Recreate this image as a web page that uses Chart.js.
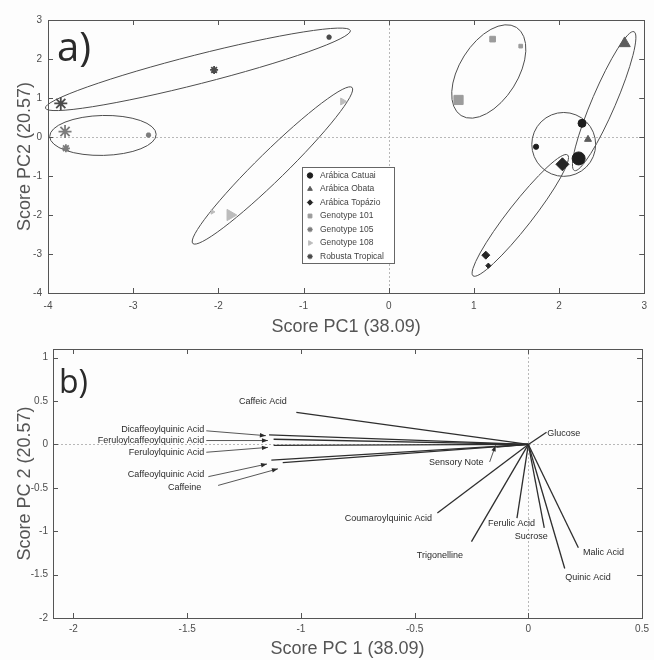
<!DOCTYPE html>
<html>
<head>
<meta charset="utf-8">
<script src="https://cdn.jsdelivr.net/npm/chart.js@4.4.1/dist/chart.umd.min.js"></script>
<style>
  html, body { margin: 0; padding: 0; background: #fdfdfd; }
  canvas { display: block; }
</style>
</head>
<body>
<canvas id="scoresChart" width="654" height="338"></canvas>
<canvas id="loadingsChart" width="654" height="322"></canvas>
<script>
// ---- a) PCA scores, three samples per coffee ----
const groupNames = ['Arábica Catuai', 'Arábica Obata', 'Arábica Topázio', 'Genotype 101', 'Genotype 105', 'Genotype 108', 'Robusta Tropical'];
const catuaiX = [2.23, 2.27, 1.73];
const catuaiY = [-0.55, 0.35, -0.25];
const obataX = [2.77, 2.34, 2.27];
const obataY = [2.40, -0.06, -0.63];
const topazioX = [2.04, 1.14, 1.17];
const topazioY = [-0.70, -3.03, -3.30];
const gen101X = [0.82, 1.22, 1.55];
const gen101Y = [0.95, 2.51, 2.33];
const gen105X = [-3.80, -3.79, -2.82];
const gen105Y = [0.14, -0.29, 0.05];
const gen108X = [-1.86, -0.54, -2.07];
const gen108Y = [-2.00, 0.91, -1.92];
const robustaX = [-3.85, -2.05, -0.70];
const robustaY = [0.86, 1.72, 2.56];

// group ellipses: ends of the long axis + short/long ratio
const ellipseX1 = [1.68, 2.18, 2.10, 0.85, -3.98, -2.30, -4.03];
const ellipseY1 = [-0.19, -0.86, -0.46, 0.55, 0.01, -2.73, 0.74];
const ellipseX2 = [2.43, 2.88, 0.99, 1.50, -2.73, -0.43, -0.45];
const ellipseY2 = [-0.19, 2.70, -3.56, 2.81, 0.07, 1.27, 2.73];
const ellipseRatio = [1.0, 0.156, 0.157, 0.56, 0.375, 0.128, 0.092];

// ---- b) loadings ----
const variables = ['Caffeic Acid', 'Dicaffeoylquinic Acid', 'Feruloylcaffeoylquinic Acid', 'Feruloylquinic Acid',
  'Caffeoylquinic Acid', 'Caffeine', 'Sensory Note', 'Glucose', 'Coumaroylquinic Acid', 'Trigonelline',
  'Ferulic Acid', 'Sucrose', 'Quinic Acid', 'Malic Acid'];
const loadPC1 = [-1.02, -1.14, -1.12, -1.12, -1.13, -1.08, -0.14, 0.08, -0.40, -0.25, -0.05, 0.07, 0.16, 0.22];
const loadPC2 = [0.37, 0.11, 0.06, -0.01, -0.18, -0.21, -0.03, 0.14, -0.79, -1.12, -0.85, -0.96, -1.43, -1.19];

const xsA = [catuaiX, obataX, topazioX, gen101X, gen105X, gen108X, robustaX];
const ysA = [catuaiY, obataY, topazioY, gen101Y, gen105Y, gen108Y, robustaY];

const groupStyles = [
  { color: '#1e1e1e', shape: 'circle', rot: 0 },
  { color: '#5c5c5c', shape: 'triangle', rot: 0 },
  { color: '#262626', shape: 'rectRot', rot: 0 },
  { color: '#9c9c9c', shape: 'rect', rot: 0 },
  { color: '#7c7c7c', shape: 'star', rot: 0 },
  { color: '#bcbcbc', shape: 'triangle', rot: 90 },
  { color: '#4a4a4a', shape: 'star', rot: 0 }
];
const markerRadius = [6.5, 4, 2.6]; // big / medium / small sample

const FONT = 'Liberation Sans';
const tickFont = { family: FONT, size: 10 };
const titleFont = { family: FONT, size: 18 };
const plainTick = v => String(Math.round(v * 100) / 100);

// zero lines, box and inward tick marks (matlab style)
const framePlugin = {
  id: 'frame',
  beforeDatasetsDraw(chart) {
    const { ctx, chartArea: a, scales: { x, y } } = chart;
    const x0 = Math.round(x.getPixelForValue(0)) + 0.5;
    const y0 = Math.round(y.getPixelForValue(0)) + 0.5;
    ctx.save();
    ctx.strokeStyle = '#b8b8b8';
    ctx.lineWidth = 1;
    ctx.setLineDash([2, 2]);
    ctx.beginPath();
    ctx.moveTo(x0, a.top); ctx.lineTo(x0, a.bottom);
    ctx.moveTo(a.left, y0); ctx.lineTo(a.right, y0);
    ctx.stroke();
    ctx.restore();
  },
  afterDraw(chart) {
    const { ctx, chartArea: a, scales: { x, y } } = chart;
    ctx.save();
    ctx.strokeStyle = '#555';
    ctx.lineWidth = 1;
    ctx.strokeRect(Math.round(a.left) + 0.5, Math.round(a.top) + 0.5, Math.round(a.right - a.left), Math.round(a.bottom - a.top));
    ctx.beginPath();
    x.ticks.forEach(t => {
      const px = Math.round(x.getPixelForValue(t.value)) + 0.5;
      ctx.moveTo(px, a.bottom); ctx.lineTo(px, a.bottom - 5);
      ctx.moveTo(px, a.top); ctx.lineTo(px, a.top + 5);
    });
    y.ticks.forEach(t => {
      const py = Math.round(y.getPixelForValue(t.value)) + 0.5;
      ctx.moveTo(a.left, py); ctx.lineTo(a.left + 5, py);
      ctx.moveTo(a.right, py); ctx.lineTo(a.right - 5, py);
    });
    ctx.stroke();
    ctx.restore();
  }
};

const panelTag = {
  id: 'panelTag',
  afterDraw(chart, args, opts) {
    const { ctx, chartArea: a } = chart;
    ctx.save();
    ctx.fillStyle = '#2a2a2a';
    ctx.font = opts.size + 'px "Open Sans"';
    ctx.textBaseline = 'alphabetic';
    ctx.fillText(opts.text, a.left + opts.dx, a.top + opts.dy);
    ctx.restore();
  }
};

const ellipsePlugin = {
  id: 'ellipses',
  beforeDatasetsDraw(chart) {
    const { ctx, scales: { x, y } } = chart;
    ctx.save();
    ctx.strokeStyle = '#4e4e4e';
    ctx.lineWidth = 1;
    groupNames.forEach((_, i) => {
      const x1 = x.getPixelForValue(ellipseX1[i]), y1 = y.getPixelForValue(ellipseY1[i]);
      const x2 = x.getPixelForValue(ellipseX2[i]), y2 = y.getPixelForValue(ellipseY2[i]);
      const r = Math.hypot(x2 - x1, y2 - y1) / 2;
      ctx.beginPath();
      ctx.ellipse((x1 + x2) / 2, (y1 + y2) / 2, r, r * ellipseRatio[i], Math.atan2(y2 - y1, x2 - x1), 0, Math.PI * 2);
      ctx.stroke();
    });
    ctx.restore();
  }
};

const legendBox = {
  id: 'legendBox',
  afterDraw(chart) {
    const { ctx, chartArea: a } = chart;
    const left = a.left + 254, top = a.top + 147, w = 92, h = 96;
    ctx.save();
    ctx.fillStyle = '#fff';
    ctx.fillRect(left, top, w, h);
    ctx.strokeStyle = '#666';
    ctx.lineWidth = 1;
    ctx.strokeRect(left + 0.5, top + 0.5, w, h);
    ctx.font = '8.5px "' + FONT + '"';
    ctx.textBaseline = 'middle';
    groupNames.forEach((name, i) => {
      const st = groupStyles[i];
      const yy = top + 8.5 + i * 13.5;
      ctx.fillStyle = st.color;
      ctx.strokeStyle = st.color;
      ctx.lineWidth = st.shape === 'star' ? 1.3 : 1;
      Chart.helpers.drawPoint(ctx, { pointStyle: st.shape, rotation: st.rot, radius: 2.7, borderWidth: 1 }, left + 8, yy);
      ctx.fillStyle = '#444';
      ctx.fillText(name, left + 18, yy);
    });
    ctx.restore();
  }
};

new Chart(document.getElementById('scoresChart'), {
  type: 'scatter',
  data: {
    datasets: groupNames.map((name, i) => ({
      label: name,
      data: xsA[i].map((v, j) => ({ x: v, y: ysA[i][j] })),
      pointStyle: groupStyles[i].shape,
      pointRotation: groupStyles[i].rot,
      pointRadius: markerRadius,
      backgroundColor: groupStyles[i].color,
      borderColor: groupStyles[i].color,
      borderWidth: groupStyles[i].shape === 'star' ? 1.8 : 1
    }))
  },
  options: {
    responsive: false,
    animation: false,
    events: [],
    layout: { padding: { top: 20, right: 8, left: 0, bottom: 0 } },
    plugins: {
      legend: { display: false },
      tooltip: { enabled: false },
      panelTag: { text: 'a)', size: 40, dx: 9, dy: 41 }
    },
    scales: {
      x: {
        type: 'linear', min: -4, max: 3,
        grid: { display: false, drawTicks: false },
        border: { display: false },
        ticks: { stepSize: 1, autoSkip: false, maxRotation: 0, padding: 7, font: tickFont, color: '#4d4d4d', callback: plainTick },
        title: { display: true, text: 'Score PC1 (38.09)', font: titleFont, color: '#555', padding: { top: 0, bottom: 0 } },
        afterFit(s) { s.height = 45; }
      },
      y: {
        type: 'linear', min: -4, max: 3,
        grid: { display: false, drawTicks: false },
        border: { display: false },
        ticks: { stepSize: 1, autoSkip: false, padding: 6, font: tickFont, color: '#4d4d4d', callback: plainTick },
        title: { display: true, text: 'Score PC2 (20.57)', font: titleFont, color: '#555', padding: { top: 14, bottom: 0 } },
        afterFit(s) { s.width = 48; }
      }
    }
  },
  plugins: [framePlugin, ellipsePlugin, legendBox, panelTag]
});

// where the loading names sit, with arrows for the crowded ones
const labelSpots = {
  'Caffeic Acid': { x: -1.167, y: 0.494, align: 'center' },
  'Dicaffeoylquinic Acid': { x: -1.425, y: 0.169, align: 'right', from: [-1.416, 0.157], to: [-1.154, 0.101] },
  'Feruloylcaffeoylquinic Acid': { x: -1.425, y: 0.045, align: 'right', from: [-1.416, 0.045], to: [-1.145, 0.045] },
  'Feruloylquinic Acid': { x: -1.425, y: -0.09, align: 'right', from: [-1.416, -0.09], to: [-1.145, -0.034] },
  'Caffeoylquinic Acid': { x: -1.425, y: -0.348, align: 'right', from: [-1.407, -0.371], to: [-1.149, -0.225] },
  'Caffeine': { x: -1.438, y: -0.494, align: 'right', from: [-1.364, -0.472], to: [-1.101, -0.281] },
  'Sensory Note': { x: -0.197, y: -0.213, align: 'right', from: [-0.170, -0.202], to: [-0.144, -0.011] },
  'Glucose': { x: 0.083, y: 0.124, align: 'left' },
  'Coumaroylquinic Acid': { x: -0.424, y: -0.854, align: 'right' },
  'Trigonelline': { x: -0.389, y: -1.281, align: 'center' },
  'Ferulic Acid': { x: -0.074, y: -0.91, align: 'center' },
  'Sucrose': { x: 0.013, y: -1.056, align: 'center' },
  'Malic Acid': { x: 0.240, y: -1.247, align: 'left' },
  'Quinic Acid': { x: 0.162, y: -1.539, align: 'left' }
};

const loadingLabels = {
  id: 'loadingLabels',
  afterDatasetsDraw(chart) {
    const { ctx, scales: { x, y } } = chart;
    ctx.save();
    ctx.font = '9px "' + FONT + '"';
    ctx.textBaseline = 'middle';
    ctx.fillStyle = '#2a2a2a';
    ctx.strokeStyle = '#444';
    ctx.lineWidth = 0.9;
    variables.forEach(name => {
      const s = labelSpots[name];
      ctx.textAlign = s.align;
      ctx.fillText(name, x.getPixelForValue(s.x), y.getPixelForValue(s.y));
      if (s.from) {
        const fx = x.getPixelForValue(s.from[0]), fy = y.getPixelForValue(s.from[1]);
        const tx = x.getPixelForValue(s.to[0]), ty = y.getPixelForValue(s.to[1]);
        const ang = Math.atan2(ty - fy, tx - fx);
        ctx.beginPath();
        ctx.moveTo(fx, fy); ctx.lineTo(tx, ty);
        ctx.stroke();
        ctx.beginPath();
        ctx.moveTo(tx, ty);
        ctx.lineTo(tx - 6 * Math.cos(ang) + 2.2 * Math.sin(ang), ty - 6 * Math.sin(ang) - 2.2 * Math.cos(ang));
        ctx.lineTo(tx - 6 * Math.cos(ang) - 2.2 * Math.sin(ang), ty - 6 * Math.sin(ang) + 2.2 * Math.cos(ang));
        ctx.closePath();
        ctx.fill();
      }
    });
    ctx.restore();
  }
};

new Chart(document.getElementById('loadingsChart'), {
  type: 'scatter',
  data: {
    datasets: variables.map((name, i) => ({
      label: name,
      data: [{ x: 0, y: 0 }, { x: loadPC1[i], y: loadPC2[i] }],
      showLine: true,
      borderColor: '#2e2e2e',
      borderWidth: 1.3,
      pointRadius: 0
    }))
  },
  options: {
    responsive: false,
    animation: false,
    events: [],
    layout: { padding: { top: 4, right: 9, left: 0, bottom: 0 } },
    plugins: {
      legend: { display: false },
      tooltip: { enabled: false },
      panelTag: { text: 'b)', size: 32, dx: 6, dy: 44 }
    },
    scales: {
      x: {
        type: 'linear', min: -2.09, max: 0.5,
        grid: { display: false, drawTicks: false },
        border: { display: false },
        ticks: { stepSize: 0.5, includeBounds: false, autoSkip: false, maxRotation: 0, padding: 5, font: tickFont, color: '#4d4d4d', callback: plainTick },
        title: { display: true, text: 'Score PC 1 (38.09)', font: titleFont, color: '#555', padding: { top: 0, bottom: 0 } },
        afterFit(s) { s.height = 42; }
      },
      y: {
        type: 'linear', min: -2, max: 1.1,
        grid: { display: false, drawTicks: false },
        border: { display: false },
        ticks: { stepSize: 0.5, includeBounds: false, autoSkip: false, padding: 5, font: tickFont, color: '#4d4d4d', callback: plainTick },
        title: { display: true, text: 'Score PC 2 (20.57)', font: titleFont, color: '#555', padding: { top: 14, bottom: 0 } },
        afterFit(s) { s.width = 53; }
      }
    }
  },
  plugins: [framePlugin, loadingLabels, panelTag]
});
</script>
</body>
</html>
